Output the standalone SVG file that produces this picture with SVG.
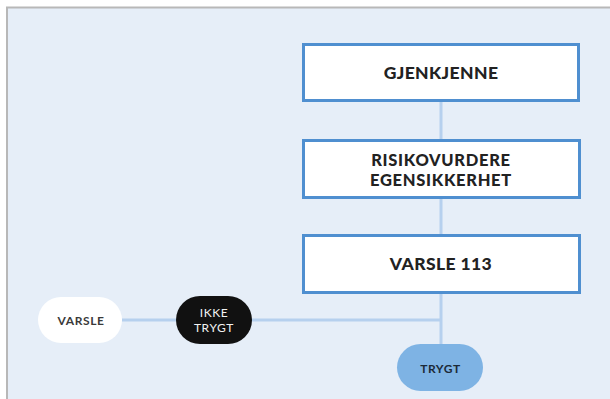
<svg xmlns="http://www.w3.org/2000/svg" width="610" height="399" viewBox="0 0 610 399">
<style>
.box{fill:#ffffff;stroke:#4f8fd0;stroke-width:3}
.bt{font-family:Lato,"Open Sans","Liberation Sans",sans-serif;font-weight:900;font-size:17.5px;fill:#222222;text-anchor:middle;letter-spacing:0.4px}
.bt2{font-size:16.5px;letter-spacing:0.7px}
.pt{font-family:Lato,"Open Sans","Liberation Sans",sans-serif;font-size:12px;text-anchor:middle;letter-spacing:0.6px}
.con{stroke:#b6d0ee;stroke-width:3;fill:none}
</style>
<rect x="0" y="0" width="610" height="399" fill="#ffffff"/>
<rect x="8" y="8" width="602" height="391" fill="#e6eef8"/>
<path d="M7 399 V7.5 H610" fill="none" stroke="#b8b8b8" stroke-width="2"/>
<g id="connectors">
<path class="con" d="M441 102 V139"/>
<path class="con" d="M441 199 V234"/>
<path class="con" d="M441 294 V344"/>
<path class="con" d="M122 320 H441"/>
</g>
<g id="gjenkjenne">
<rect class="box" x="303.5" y="44.5" width="275" height="56"/>
<text class="bt" x="441" y="79">GJENKJENNE</text>
</g>
<g id="risikovurdere">
<rect class="box" x="303.5" y="140.5" width="276" height="57"/>
<text class="bt bt2" x="441" y="165.5">RISIKOVURDERE</text>
<text class="bt bt2" x="441" y="185.5">EGENSIKKERHET</text>
</g>
<g id="varsle113">
<rect class="box" x="303.5" y="235.5" width="276" height="57"/>
<text class="bt" x="441" y="270">VARSLE 113</text>
</g>
<g id="varsle">
<rect x="38" y="297" width="84" height="46" rx="23" fill="#ffffff"/>
<text class="pt" x="81" y="324.5" font-weight="700" font-size="11px" fill="#3a3a3a">VARSLE</text>
</g>
<g id="ikke-trygt">
<rect x="176" y="296" width="76" height="48" rx="24" fill="#111111"/>
<text class="pt" x="214" y="317" font-size="13px" letter-spacing="1.3px" fill="#f2f2f2">IKKE</text>
<text class="pt" x="214" y="332" font-size="13px" letter-spacing="1.3px" fill="#f2f2f2">TRYGT</text>
</g>
<g id="trygt">
<rect x="397" y="344" width="86" height="47" rx="23.5" fill="#7eb3e4"/>
<text class="pt" x="440.5" y="373" font-weight="700" font-size="13px" letter-spacing="0.8px" fill="#1c2a38">TRYGT</text>
</g>
</svg>
